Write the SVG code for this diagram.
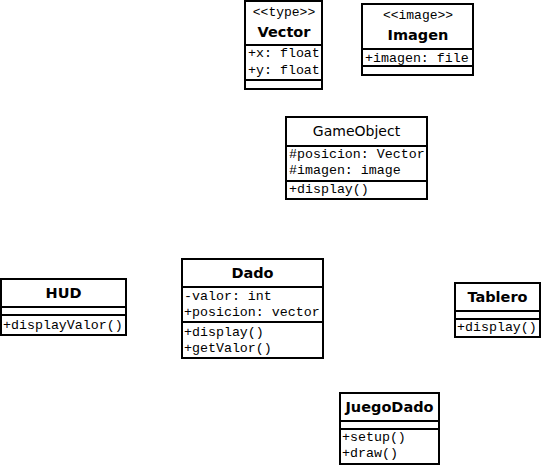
<svg xmlns="http://www.w3.org/2000/svg" width="543" height="465" viewBox="0 0 543 465">
<style>
.box{fill:#fff;stroke:#000;stroke-width:2}
.div{stroke:#000;stroke-width:2}
.t{font-family:"DejaVu Sans",Verdana,sans-serif;font-weight:bold;font-size:14.5px;text-anchor:middle;fill:#000}
.n{font-family:"DejaVu Sans",Verdana,sans-serif;font-size:14px;text-anchor:middle;fill:#000}
.s{font-family:"Liberation Mono","Courier New",monospace;font-size:13px;text-anchor:middle;fill:#000}
.m{font-family:"Liberation Mono","Courier New",monospace;font-size:13.3px;fill:#000}
</style>
<rect width="543" height="465" fill="#fff"/>
<g id="connectors"></g>
<g id="Vector">
<rect class="box" x="245" y="1" width="77" height="88"/>
<line class="div" x1="245" y1="45" x2="322" y2="45"/>
<line class="div" x1="245" y1="80" x2="322" y2="80"/>
<text class="s" x="284" y="16">&lt;&lt;type&gt;&gt;</text>
<text class="t" x="284" y="37">Vector</text>
<text class="m" x="248" y="57">+x: float</text>
<text class="m" x="248" y="74">+y: float</text>
</g>
<g id="Imagen">
<rect class="box" x="362" y="4" width="111" height="71"/>
<line class="div" x1="362" y1="49" x2="473" y2="49"/>
<line class="div" x1="362" y1="66" x2="473" y2="66"/>
<text class="s" x="418" y="19">&lt;&lt;image&gt;&gt;</text>
<text class="t" x="418" y="40">Imagen</text>
<text class="m" x="365" y="62">+imagen: file</text>
</g>
<g id="GameObject">
<rect class="box" x="286" y="117" width="141" height="82"/>
<line class="div" x1="286" y1="146" x2="427" y2="146"/>
<line class="div" x1="286" y1="181" x2="427" y2="181"/>
<text class="n" x="356.5" y="136">GameObject</text>
<text class="m" x="289" y="158">#posicion: Vector</text>
<text class="m" x="289" y="174">#imagen: image</text>
<text class="m" x="289" y="193">+display()</text>
</g>
<g id="HUD">
<rect class="box" x="1" y="279" width="125" height="56"/>
<line class="div" x1="1" y1="307" x2="126" y2="307"/>
<line class="div" x1="1" y1="315" x2="126" y2="315"/>
<text class="t" x="63.5" y="298">HUD</text>
<text class="m" x="3" y="329">+displayValor()</text>
</g>
<g id="Dado">
<rect class="box" x="182" y="259" width="141" height="99"/>
<line class="div" x1="182" y1="287" x2="323" y2="287"/>
<line class="div" x1="182" y1="322" x2="323" y2="322"/>
<text class="t" x="252.5" y="278">Dado</text>
<text class="m" x="184" y="300">-valor: int</text>
<text class="m" x="184" y="316">+posicion: vector</text>
<text class="m" x="184" y="336">+display()</text>
<text class="m" x="184" y="352">+getValor()</text>
</g>
<g id="Tablero">
<rect class="box" x="455" y="283" width="85" height="54"/>
<line class="div" x1="455" y1="311" x2="540" y2="311"/>
<line class="div" x1="455" y1="319" x2="540" y2="319"/>
<text class="t" x="497.5" y="302">Tablero</text>
<text class="m" x="457" y="331">+display()</text>
</g>
<g id="JuegoDado">
<rect class="box" x="340" y="393" width="99" height="71"/>
<line class="div" x1="340" y1="421" x2="439" y2="421"/>
<line class="div" x1="340" y1="429" x2="439" y2="429"/>
<text class="t" x="389.5" y="412">JuegoDado</text>
<text class="m" x="342" y="441">+setup()</text>
<text class="m" x="342" y="457">+draw()</text>
</g>
</svg>
